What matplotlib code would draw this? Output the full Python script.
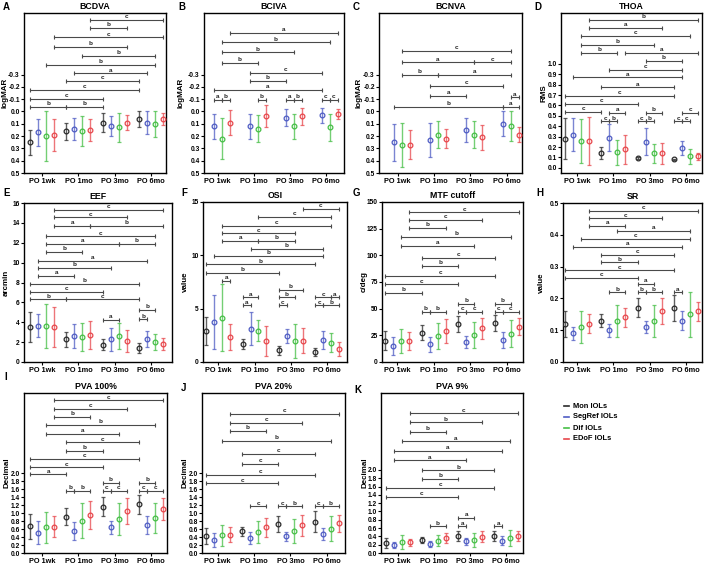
import numpy as np
import matplotlib
matplotlib.use("Agg")
from matplotlib import pyplot as plt
from matplotlib.lines import Line2D

plt.rcParams['font.family'] = ['Liberation Sans', 'DejaVu Sans']
plt.rcParams['font.weight'] = 'bold'
plt.rcParams['axes.labelweight'] = 'bold'
plt.rcParams['axes.titleweight'] = 'bold'

W, H = 706, 565

groups = ['PO 1wk', 'PO 1mo', 'PO 3mo', 'PO 6mo']
series = ['Mon IOLs', 'SegRef IOLs', 'Dif IOLs', 'EDoF IOLs']
colors = ['#2a2a2a', '#4f5cc4', '#45bf45', '#e8474c']
offsets = [-0.33, -0.11, 0.11, 0.33]
nan = np.nan

# means / sd, rows = Mon, SegRef, Dif, EDoF ; cols = 1wk, 1mo, 3mo, 6mo
bcdva_mean = [[0.25, 0.16, 0.09, 0.06], [0.17, 0.14, 0.12, 0.09],
              [0.20, 0.16, 0.13, 0.10], [0.19, 0.15, 0.09, 0.06]]
bcdva_sd = [[0.10, 0.07, 0.08, 0.065], [0.11, 0.09, 0.08, 0.09],
            [0.205, 0.12, 0.12, 0.105], [0.13, 0.09, 0.06, 0.05]]
bciva_mean = [[nan] * 4, [0.12, 0.12, 0.05, 0.03],
              [0.22, 0.14, 0.12, 0.13], [0.09, 0.04, 0.04, 0.02]]
bciva_sd = [[nan] * 4, [0.10, 0.10, 0.07, 0.06],
            [0.17, 0.11, 0.10, 0.11], [0.10, 0.09, 0.07, 0.04]]
bcnva_mean = [[nan] * 4, [0.25, 0.23, 0.15, 0.10],
              [0.27, 0.19, 0.19, 0.12], [0.27, 0.22, 0.21, 0.19]]
bcnva_sd = [[nan] * 4, [0.15, 0.14, 0.10, 0.10],
            [0.18, 0.11, 0.11, 0.12], [0.12, 0.08, 0.10, 0.06]]
thoa_mean = [[0.28, 0.14, 0.09, 0.08], [0.32, 0.29, 0.25, 0.19],
             [0.26, 0.15, 0.14, 0.11], [0.26, 0.18, 0.14, 0.11]]
thoa_sd = [[0.20, 0.06, 0.01, 0.005], [0.16, 0.13, 0.13, 0.07],
           [0.21, 0.12, 0.09, 0.07], [0.23, 0.14, 0.10, 0.035]]
eef_mean = [[3.5, 2.3, 1.75, 1.4], [3.65, 2.6, 2.3, 2.3],
            [3.6, 2.5, 2.65, 2.05], [3.55, 2.7, 2.1, 1.85]]
eef_sd = [[1.5, 0.75, 0.55, 0.5], [1.15, 1.2, 1.15, 0.8],
          [2.2, 1.4, 1.3, 0.8], [2.0, 1.4, 1.1, 0.6]]
osi_mean = [[2.9, 1.7, 1.1, 0.95], [3.75, 3.1, 2.45, 2.05],
            [4.15, 2.95, 1.95, 1.8], [2.35, 1.95, 2.0, 1.2]]
osi_sd = [[1.3, 0.5, 0.4, 0.35], [2.55, 1.55, 0.65, 0.85],
          [3.15, 0.95, 1.6, 0.9], [1.2, 1.4, 1.15, 0.65]]
mtf_mean = [[20, 27.5, 35.5, 37], [15, 16.5, 19, 21],
            [19.5, 24.5, 25.5, 26.5], [20, 29, 31.5, 33]]
mtf_sd = [[9, 7, 7.5, 7.5], [8, 7, 5.5, 7.5],
          [11.5, 12.5, 12, 12.5], [8.5, 11, 10, 8]]
sr_mean = [[0.12, 0.13, 0.17, 0.17], [0.09, 0.10, 0.11, 0.13],
           [0.11, 0.13, 0.13, 0.15], [0.12, 0.14, 0.16, 0.16]]
sr_sd = [[0.04, 0.02, 0.03, 0.04], [0.02, 0.02, 0.02, 0.03],
         [0.05, 0.05, 0.05, 0.07], [0.03, 0.03, 0.04, 0.03]]
pva100_mean = [[0.67, 0.91, 1.16, 1.22], [0.51, 0.55, 0.64, 0.70],
               [0.64, 0.81, 0.85, 0.88], [0.66, 0.96, 1.05, 1.10]]
pva100_sd = [[0.31, 0.22, 0.24, 0.24], [0.29, 0.23, 0.17, 0.23],
             [0.39, 0.43, 0.41, 0.38], [0.27, 0.35, 0.33, 0.28]]
pva20_mean = [[0.42, 0.54, 0.72, 0.78], [0.33, 0.37, 0.42, 0.47],
              [0.44, 0.53, 0.55, 0.61], [0.46, 0.64, 0.69, 0.74]]
pva20_sd = [[0.20, 0.11, 0.20, 0.26], [0.17, 0.15, 0.11, 0.15],
            [0.27, 0.28, 0.31, 0.31], [0.19, 0.24, 0.26, 0.21]]
pva9_mean = [[0.24, 0.31, 0.41, 0.42], [0.19, 0.22, 0.28, 0.30],
             [0.26, 0.30, 0.31, 0.36], [0.26, 0.35, 0.39, 0.41]]
pva9_sd = [[0.12, 0.07, 0.11, 0.12], [0.07, 0.07, 0.09, 0.10],
           [0.17, 0.14, 0.17, 0.19], [0.08, 0.12, 0.13, 0.11]]

# significance brackets: (from, to, y, letter); position = group*4 + series
bcdva_sig = [(7, 15, -0.746, 'c'), (7, 11, -0.680, 'b'), (3, 15, -0.601, 'c'),
             (3, 11, -0.527, 'b'), (6, 14, -0.451, 'b'), (2, 14, -0.377, 'b'),
             (5, 13, -0.309, 'a'), (4, 12, -0.246, 'c'), (0, 12, -0.178, 'c'),
             (0, 8, -0.104, 'c'), (0, 4, -0.036, 'b'), (4, 8, -0.036, 'b')]
bciva_sig = [(3, 15, -0.64, 'a'), (2, 14, -0.562, 'b'), (2, 10, -0.481, 'b'),
             (2, 6, -0.397, 'b'), (5, 13, -0.316, 'c'), (5, 9, -0.249, 'b'),
             (1, 13, -0.176, 'a'), (1, 2, -0.095, 'a'), (2, 3, -0.095, 'b'),
             (6, 7, -0.095, 'b'), (9, 10, -0.095, 'a'), (10, 11, -0.095, 'b'),
             (13, 14, -0.095, 'c'), (14, 15, -0.095, 'c')]
bcnva_sig = [(2, 14, -0.495, 'c'), (2, 10, -0.40, 'a'), (10, 14, -0.40, 'c'),
             (2, 6, -0.296, 'b'), (6, 14, -0.296, 'a'), (5, 13, -0.209, 'c'),
             (5, 9, -0.125, 'a'), (14, 15, -0.114, 'a'), (1, 13, -0.038, 'b'),
             (13, 15, -0.038, 'a')]
thoa_sig = [(3, 15, 1.422, 'b'), (3, 11, 1.344, 'a'), (2, 14, 1.273, 'c'),
            (2, 10, 1.185, 'b'), (2, 6, 1.104, 'b'), (7, 15, 1.104, 'a'),
            (9, 13, 1.029, 'b'), (5, 13, 0.942, 'c'), (1, 13, 0.870, 'a'),
            (4, 12, 0.773, 'a'), (0, 12, 0.695, 'c'), (0, 8, 0.614, 'c'),
            (0, 4, 0.536, 'c'), (5, 7, 0.526, 'a'), (9, 11, 0.526, 'b'),
            (13, 15, 0.526, 'c'), (4, 5, 0.448, 'c'), (5, 6, 0.448, 'b'),
            (8, 9, 0.448, 'c'), (9, 10, 0.448, 'b'), (12, 13, 0.448, 'c'),
            (13, 14, 0.448, 'c')]
eef_sig = [(3, 15, 15.32, 'c'), (3, 11, 14.55, 'c'), (3, 7, 13.71, 'a'),
           (7, 15, 13.71, 'b'), (2, 14, 12.63, 'c'), (2, 10, 11.86, 'a'),
           (10, 14, 11.86, 'b'), (2, 6, 11.05, 'b'), (1, 13, 10.17, 'a'),
           (1, 9, 9.50, 'b'), (1, 5, 8.69, 'a'), (0, 12, 7.85, 'b'),
           (0, 8, 7.07, 'c'), (0, 4, 6.30, 'b'), (4, 12, 6.30, 'c'),
           (12, 14, 5.22, 'b'), (12, 13, 4.28, 'b'), (8, 10, 4.24, 'a')]
osi_sig = [(11, 15, 14.37, 'c'), (6, 14, 13.58, 'c'), (2, 14, 12.79, 'c'),
           (2, 10, 12.06, 'c'), (2, 6, 11.37, 'a'), (6, 10, 11.37, 'b'),
           (5, 13, 10.64, 'b'), (1, 13, 9.94, 'b'), (0, 12, 9.16, 'b'),
           (0, 8, 8.37, 'b'), (2, 3, 7.58, 'a'), (8, 11, 6.79, 'b'),
           (4, 6, 6.06, 'a'), (8, 10, 6.06, 'b'), (12, 14, 6.06, 'c'),
           (14, 15, 6.06, 'a'), (4, 5, 5.30, 'a'), (8, 9, 5.30, 'c'),
           (12, 13, 5.30, 'c'), (13, 15, 5.30, 'b')]
mtf_sig = [(3, 15, 140.3, 'c'), (3, 11, 133.0, 'c'), (3, 7, 125.5, 'b'),
           (2, 14, 117.4, 'b'), (2, 10, 109.2, 'a'), (4, 12, 97.9, 'c'),
           (4, 8, 90.0, 'b'), (0, 12, 81.0, 'c'), (0, 8, 72.8, 'c'),
           (0, 4, 65.0, 'b'), (8, 10, 54.6, 'b'), (12, 14, 54.6, 'b'),
           (4, 5, 47.1, 'b'), (5, 7, 47.1, 'b'), (8, 9, 47.1, 'c'),
           (9, 11, 47.1, 'c'), (12, 13, 47.1, 'c'), (13, 15, 47.1, 'c')]
sr_sig = [(3, 15, 0.476, 'c'), (3, 11, 0.452, 'c'), (3, 7, 0.429, 'a'),
          (6, 14, 0.412, 'a'), (2, 14, 0.388, 'c'), (1, 13, 0.362, 'a'),
          (4, 12, 0.338, 'c'), (4, 8, 0.313, 'b'), (0, 12, 0.288, 'c'),
          (0, 8, 0.264, 'c'), (8, 10, 0.245, 'a'), (5, 7, 0.219, 'b'),
          (8, 9, 0.219, 'b'), (9, 11, 0.219, 'b'), (12, 13, 0.219, 'a')]
pva100_sig = [(3, 15, 3.82, 'c'), (3, 11, 3.61, 'c'), (3, 7, 3.40, 'b'),
              (2, 14, 3.21, 'b'), (2, 10, 2.98, 'a'), (4, 12, 2.77, 'c'),
              (4, 8, 2.56, 'b'), (0, 12, 2.35, 'c'), (0, 8, 2.14, 'c'),
              (0, 4, 1.97, 'a'), (8, 10, 1.76, 'b'), (12, 14, 1.76, 'b'),
              (4, 5, 1.55, 'b'), (5, 7, 1.55, 'b'), (8, 9, 1.55, 'c'),
              (9, 11, 1.55, 'c'), (12, 13, 1.55, 'c'), (13, 15, 1.55, 'c')]
pva20_sig = [(3, 15, 3.475, 'c'), (3, 11, 3.25, 'c'), (3, 7, 3.05, 'b'),
             (2, 14, 2.81, 'b'), (4, 12, 2.475, 'c'), (4, 8, 2.225, 'c'),
             (0, 12, 1.96, 'c'), (0, 8, 1.74, 'c'), (5, 7, 1.17, 'c'),
             (8, 9, 1.17, 'c'), (9, 11, 1.17, 'b'), (12, 13, 1.17, 'c'),
             (13, 15, 1.17, 'b')]
pva9_sig = [(3, 15, 3.36, 'c'), (3, 11, 3.145, 'b'), (3, 7, 2.92, 'b'),
            (2, 14, 2.685, 'a'), (1, 13, 2.46, 'a'), (1, 9, 2.23, 'a'),
            (4, 12, 1.99, 'b'), (4, 8, 1.79, 'b'), (0, 12, 1.57, 'c'),
            (0, 8, 1.35, 'c'), (8, 10, 0.85, 'a'), (5, 7, 0.645, 'b'),
            (8, 9, 0.645, 'a'), (12, 13, 0.645, 'a')]

logmar_ticks = np.round(np.arange(-0.3, 0.51, 0.1), 1)
dec_ticks = np.round(np.arange(0, 2.01, 0.2), 1)

# letter, title, ylabel, mean, sd, sig, ylim, yticks, fmt, xlim,
# box (px: l, t, r, b), letter pos (px), ylabel centre offset from left spine (px)
panels = [
    ('A', 'BCDVA', 'logMAR', bcdva_mean, bcdva_sd, bcdva_sig, (0.5, -0.8), logmar_ticks, '{:.1f}',
     (-0.50, 3.41), (24, 13, 166, 173), (3, 2), -19),
    ('B', 'BCIVA', 'logMAR', bciva_mean, bciva_sd, bciva_sig, (0.5, -0.8), logmar_ticks, '{:.1f}',
     (-0.38, 3.50), (204, 13, 344, 173), (178, 2), -23),
    ('C', 'BCNVA', 'logMAR', bcnva_mean, bcnva_sd, bcnva_sig, (0.5, -0.8), logmar_ticks, '{:.1f}',
     (-0.51, 3.42), (379, 13, 522, 173), (353, 2), -20),
    ('D', 'THOA', 'RMS', thoa_mean, thoa_sd, thoa_sig, (-0.05, 1.49), np.round(np.arange(0, 1.01, 0.1), 1), '{:.1f}',
     (-0.44, 3.44), (561, 13, 702, 173), (534, 2), -17),
    ('E', 'EEF', 'arcmin', eef_mean, eef_sd, eef_sig, (0, 16), np.arange(0, 17, 2), '{:.0f}',
     (-0.50, 3.58), (24, 203, 172, 362), (3, 188), -18),
    ('F', 'OSI', 'value', osi_mean, osi_sd, osi_sig, (0, 15), np.arange(0, 16, 5), '{:.0f}',
     (-0.42, 3.55), (203, 202, 347, 362), (181, 188), -18),
    ('G', 'MTF cutoff', 'c/deg', mtf_mean, mtf_sd, mtf_sig, (0, 150), np.arange(0, 151, 25), '{:.0f}',
     (-0.42, 3.44), (382, 202, 523, 362), (353, 188), -18),
    ('H', 'SR', 'value', sr_mean, sr_sd, sr_sig, (0, 0.5), np.round(np.arange(0, 0.51, 0.1), 1), '{:.1f}',
     (-0.39, 3.44), (563, 203, 702, 362), (536, 188), -22),
    ('I', 'PVA 100%', 'Decimal', pva100_mean, pva100_sd, pva100_sig, (0, 4.0), dec_ticks, '{:.1f}',
     (-0.50, 3.44), (24, 393, 167, 553), (4, 372), -17),
    ('J', 'PVA 20%', 'Decimal', pva20_mean, pva20_sd, pva20_sig, (0, 4.0), dec_ticks, '{:.1f}',
     (-0.43, 3.50), (202, 393, 345, 553), (181, 383), -17),
    ('K', 'PVA 9%', 'Decimal', pva9_mean, pva9_sd, pva9_sig, (0, 3.85), dec_ticks, '{:.1f}',
     (-0.46, 3.46), (381, 393, 523, 553), (354, 385), -16),
]


def xpos(p):
    return p // 4 + offsets[p % 4]


fig = plt.figure(figsize=(W / 100, H / 100), dpi=100)

for (letter, title, ylabel, mean, sd, sig, ylim, yticks, fmt, xlim, box, lpos, ylx) in panels:
    l, t, r, b = box
    ax = fig.add_axes([l / W, 1 - b / H, (r - l) / W, (b - t) / H])
    for s in range(4):
        m = np.array(mean[s], dtype=float)
        if np.all(np.isnan(m)):
            continue
        x = np.arange(4) + offsets[s]
        ax.errorbar(x, m, yerr=sd[s], fmt='o', ms=3.4, mfc='none', mec=colors[s], mew=0.9,
                    ecolor=matplotlib.colors.to_rgba(colors[s], 0.75), elinewidth=1.0,
                    capsize=1.2, capthick=0.8, zorder=3)
    for p1, p2, y, lab in sig:
        x1, x2 = xpos(p1), xpos(p2)
        ax.plot([x1, x2], [y, y], color='#4a4a4a', lw=0.8, marker='|', ms=3, mew=0.8,
                clip_on=False, zorder=2)
        ax.annotate(lab, ((x1 + x2) / 2, y), xytext=(0, 0.5), textcoords='offset points',
                    ha='center', va='bottom', fontsize=4.6, color='#222222')
    ax.set_xlim(*xlim)
    ax.set_ylim(*ylim)
    ax.set_xticks(range(4))
    ax.set_xticklabels(groups)
    ax.set_yticks(yticks)
    ax.set_yticklabels([fmt.format(v + 0.0) for v in yticks])
    ax.tick_params(direction='out', length=2, width=0.8, labelsize=4.8, pad=1)
    ax.tick_params(axis='x', labelsize=5.3, pad=1.5)
    for sp in ax.spines.values():
        sp.set_linewidth(1.0)
    ax.set_ylabel(ylabel, fontsize=5.8)
    ax.yaxis.set_label_coords(ylx / (r - l), 0.5)
    ax.yaxis.label.set_verticalalignment('center')
    ax.set_title(title, fontsize=6.3, pad=3)
    fig.text(lpos[0] / W, 1 - lpos[1] / H, letter, fontsize=7, fontweight='bold', va='top', ha='left')

# legend
for i, (name, c) in enumerate(zip(series, colors)):
    y = 1 - (406 + 11 * i) / H
    fig.add_artist(Line2D([564 / W, 569 / W], [y, y], color=c, lw=1.2))
    fig.text(573 / W, y, name, fontsize=5.4, fontweight='bold', va='center', ha='left')

fig.savefig('out.png', dpi=100)
